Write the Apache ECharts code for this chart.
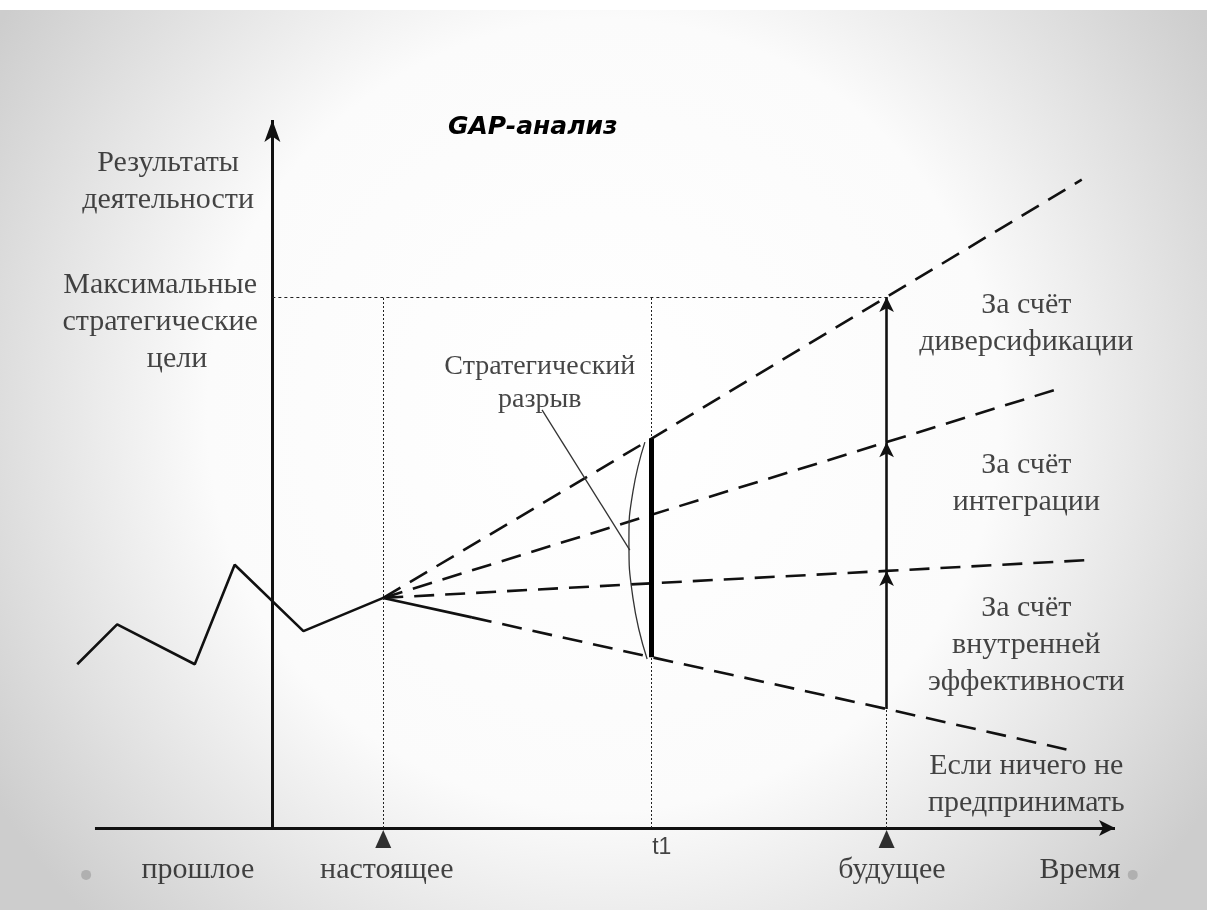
<!DOCTYPE html>
<html><head><meta charset="utf-8">
<script src="https://cdn.jsdelivr.net/npm/echarts@6/dist/echarts.min.js"></script>
<style>html,body{margin:0;padding:0;background:#fff}#c{width:1207px;height:910px}</style>
</head><body><div id="c"></div>
<script>
// ---------- DATA (conceptual units: time on x, results on y) ----------
const historyX = [-4.4, -3.5, -1.75, -0.85, 0.7, 2.5];
const historyY = [3.7, 4.6, 3.7, 5.95, 4.45, 5.2];

const timeMarks = [2.5, 8.55, 13.85];          // настоящее, t1, будущее
const maxGoal = 12.0;                            // максимальные стратегические цели

const diversX = [2.5, 8.55, 13.85, 18.25];
const diversY = [5.2, 8.8, 12.0, 14.65];
const integX = [2.5, 8.55, 13.85, 17.8];
const integY = [5.2, 7.08, 8.72, 9.95];
const effX = [2.5, 8.55, 13.85, 18.5];
const effY = [5.2, 5.53, 5.81, 6.06];
const nothingSolidX = [2.5, 4.5];
const nothingSolidY = [5.2, 4.76];
const nothingX = [4.5, 8.55, 13.85, 18.1];
const nothingY = [4.76, 3.86, 2.69, 1.73];

const gapArcX = [8.40, 8.13, 8.04, 8.13, 8.45];
const gapArcY = [8.72, 7.6, 6.5, 5.2, 3.82];
const leaderX = [6.08, 8.06];
const leaderY = [9.45, 6.28];

const axisX = [-4, 19];
const axisY = [0, 16];

const bottomLabels = ['прошлое', 'настоящее', 'будущее', 'Время'];
const bottomLabelX = [-1.68, 2.58, 13.97, 18.21];
const triangleX = [2.5, 13.85];
const decorDotX = [-4.2, 19.4];

const titleText = 'GAP-анализ';
const yLabel1 = 'Результаты\nдеятельности';
const yLabel2 = 'Максимальные\nстратегические';
const yLabel3 = 'цели';
const gapLabel = 'Стратегический\nразрыв';
const rightLabels = ['За счёт\nдиверсификации', 'За счёт\nинтеграции', 'За счёт\nвнутренней\nэффективности', 'Если ничего не\nпредпринимать'];
const rightLabelY = [11.40, 7.79, 4.14, 0.98];
const t1Label = 't1';

// ---------- CHART ----------
const zip = (xs, ys) => xs.map((x, i) => [x, ys[i]]);
const serif = "'Liberation Serif', 'DejaVu Serif', serif";
const ink = '#111';

const dashedScenario = (xs, ys) => ({
  type: 'line', data: zip(xs, ys), symbol: 'none', clip: false, z: 3,
  lineStyle: { color: ink, width: 2.6, type: [20, 11] }
});

const textPoint = (text, x, y, style) => ({
  value: [x, y],
  label: Object.assign({ show: true, formatter: text, position: 'inside', align: 'center', verticalAlign: 'middle',
    fontFamily: serif, fontSize: 30, lineHeight: 37, color: '#161616' }, style || {})
});

const chart = echarts.init(document.getElementById('c'), null, { renderer: 'canvas' });
chart.setOption({
  animation: false,
  backgroundColor: '#ffffff',
  graphic: [{
    type: 'rect', z: -100, silent: true,
    shape: { x: 0, y: 10, width: 1207, height: 900 },
    style: { fill: new echarts.graphic.RadialGradient(0.5, 0.45, 0.8, [
      { offset: 0, color: '#ffffff' }, { offset: 0.55, color: '#fbfbfb' }, { offset: 1, color: '#cdcdcd' }]) }
  }],
  title: {
    text: titleText, left: 443, top: 110,
    textStyle: { fontFamily: "'DejaVu Sans', sans-serif", fontWeight: 'bold', fontStyle: 'italic', fontSize: 25, color: '#000' }
  },
  grid: { left: 72.8, right: 92, top: 120, bottom: 82 },
  xAxis: { type: 'value', min: -4.5, max: axisX[1], show: false },
  yAxis: { type: 'value', min: axisY[0], max: axisY[1], show: false },
  series: [
    // axes and reference lines
    {
      type: 'line', data: [], clip: false, symbol: 'none',
      markLine: {
        silent: true, animation: false, label: { show: false },
        data: [
          [{ coord: [axisX[0], 0], symbol: 'none', lineStyle: { color: ink, width: 3, type: 'solid' } },
           { coord: [axisX[1], 0], symbol: 'arrow', symbolSize: [12, 16] }],
          [{ coord: [0, 0], symbol: 'none', lineStyle: { color: ink, width: 3, type: 'solid' } },
           { coord: [0, axisY[1]], symbol: 'arrow', symbolSize: [12, 22] }],
          ...timeMarks.map(t => [
            { coord: [t, 0], symbol: 'none', lineStyle: { color: '#222', width: 1, type: [2, 2] } },
            { coord: [t, maxGoal], symbol: 'none' }]),
          [{ coord: [0, maxGoal], symbol: 'none', lineStyle: { color: '#222', width: 1, type: [3, 3] } },
           { coord: [timeMarks[2], maxGoal], symbol: 'none' }],
          // arrows at the future point
          [{ coord: [timeMarks[2], nothingY[2]], symbol: 'none', lineStyle: { color: ink, width: 2.6, type: 'solid' } },
           { coord: [timeMarks[2], effY[2]], symbol: 'arrow', symbolSize: [11, 15] }],
          [{ coord: [timeMarks[2], effY[2]], symbol: 'none', lineStyle: { color: ink, width: 2.6, type: 'solid' } },
           { coord: [timeMarks[2], integY[2]], symbol: 'arrow', symbolSize: [11, 15] }],
          [{ coord: [timeMarks[2], integY[2]], symbol: 'none', lineStyle: { color: ink, width: 2.6, type: 'solid' } },
           { coord: [timeMarks[2], diversY[2]], symbol: 'arrow', symbolSize: [11, 15] }],
          // strategic gap bar at t1
          [{ coord: [timeMarks[1], nothingY[1]], symbol: 'none', lineStyle: { color: '#000', width: 5, type: 'solid' } },
           { coord: [timeMarks[1], diversY[1]], symbol: 'none' }]
        ]
      }
    },
    // history
    { type: 'line', data: zip(historyX, historyY), symbol: 'none', clip: false, z: 4,
      lineStyle: { color: ink, width: 2.6 } },
    // scenarios
    dashedScenario(diversX, diversY),
    dashedScenario(integX, integY),
    dashedScenario(effX, effY),
    { type: 'line', data: zip(nothingSolidX, nothingSolidY), symbol: 'none', clip: false, z: 4,
      lineStyle: { color: ink, width: 2.6 } },
    dashedScenario(nothingX, nothingY),
    // gap bracket and leader
    { type: 'line', data: zip(gapArcX, gapArcY), symbol: 'none', smooth: true, clip: false,
      lineStyle: { color: '#333', width: 1.3 } },
    { type: 'line', data: zip(leaderX, leaderY), symbol: 'none', clip: false,
      lineStyle: { color: '#333', width: 1.3 } },
    // triangles on time axis
    { type: 'scatter', clip: false, symbol: 'triangle', symbolSize: [16, 18], symbolOffset: [0, 11],
      itemStyle: { color: '#000' }, data: triangleX.map(x => [x, 0]), z: 5 },
    // decorative bullets
    { type: 'scatter', clip: false, symbol: 'circle', symbolSize: 10,
      itemStyle: { color: '#a8a8a8' }, data: decorDotX.map(x => [x, -1.06]) },
    // text labels
    { type: 'scatter', clip: false, symbolSize: 0, silent: true, z: 6,
      data: [
        textPoint(yLabel1, -2.35, 14.61),
        textPoint(yLabel2, -2.53, 11.85),
        textPoint(yLabel3, -2.15, 10.6),
        textPoint(gapLabel, 6.03, 10.06, { fontSize: 28, lineHeight: 33 }),
        ...rightLabels.map((t, i) => textPoint(t, 17.0, rightLabelY[i])),
        ...bottomLabels.map((t, i) => textPoint(t, bottomLabelX[i], -0.95)),
        textPoint(t1Label, 8.78, -0.45, { fontFamily: "'Liberation Sans', Arial, sans-serif", fontSize: 23 })
      ]
    }
  ]
});
</script></body></html>
